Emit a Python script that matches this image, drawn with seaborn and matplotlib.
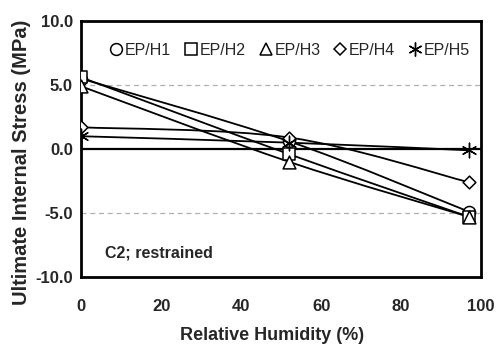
import numpy as np
import pandas as pd
import matplotlib
matplotlib.use("Agg")
import matplotlib.pyplot as plt
from matplotlib.path import Path
from matplotlib.patches import PathPatch
from matplotlib.lines import Line2D
from matplotlib.ticker import MultipleLocator, FormatStrFormatter
import seaborn as sns

# Relative humidity levels (%) and ultimate internal stress (MPa) per mix
humidity = [0, 52, 97]
series_names = ["EP/H1", "EP/H2", "EP/H3", "EP/H4", "EP/H5"]
ep_h1 = [5.5, 0.6, -4.9]
ep_h2 = [5.6, -0.4, -5.3]
ep_h3 = [4.9, -1.0, -5.3]
ep_h4 = [1.7, 0.9, -2.6]
ep_h5 = [1.0, 0.5, -0.1]
stress = [ep_h1, ep_h2, ep_h3, ep_h4, ep_h5]
markers = ["o", "s", "^", "D", (6, 2, 0)]
marker_sizes = [75, 75, 85, 42, 110]

df = pd.DataFrame({
    "humidity": np.tile(humidity, len(series_names)),
    "stress": np.concatenate(stress),
    "series": np.repeat(series_names, len(humidity)),
})

sns.set_style("white")
plt.rcParams["font.family"] = ["Liberation Sans", "DejaVu Sans"]

fig = plt.figure(figsize=(4.98, 3.45), dpi=100)
ax = fig.add_axes([0.163, 0.197, 0.803, 0.742])


def smooth_path(xs, ys):
    """Catmull-Rom style cubic Bezier through the points."""
    pts = np.column_stack([xs, ys]).astype(float)
    n = len(pts)
    verts = [pts[0]]
    codes = [Path.MOVETO]
    for i in range(n - 1):
        p0 = pts[i - 1] if i > 0 else pts[i]
        p1 = pts[i]
        p2 = pts[i + 1]
        p3 = pts[i + 2] if i + 2 < n else pts[i + 1]
        c1 = p1 + (p2 - p0) / 6.0
        c2 = p2 - (p3 - p1) / 6.0
        verts += [c1, c2, p2]
        codes += [Path.CURVE4] * 3
    return Path(verts, codes)


# reference lines
for yv in (5, -5):
    ax.axhline(yv, color="#b0b0b0", lw=0.9, ls=(0, (4, 3)), zorder=1)
ax.axhline(0, color="black", lw=1.6, zorder=2)

# smoothed connecting curves
for name in series_names:
    sub = df[df["series"] == name]
    patch = PathPatch(smooth_path(sub["humidity"].values, sub["stress"].values),
                      facecolor="none", edgecolor="black", lw=1.3, zorder=3)
    ax.add_patch(patch)

# markers
handles = []
for name, mk, ms in zip(series_names, markers, marker_sizes):
    sub = df[df["series"] == name]
    if isinstance(mk, tuple):
        sns.scatterplot(data=sub, x="humidity", y="stress", marker=mk, s=ms,
                        color="black", linewidth=1.0, ax=ax, zorder=4, legend=False)
        handles.append(Line2D([], [], ls="none", marker=mk, markersize=10,
                              color="black", markeredgewidth=1.0))
    else:
        sns.scatterplot(data=sub, x="humidity", y="stress", marker=mk, s=ms,
                        facecolor="white", edgecolor="black", linewidth=1.1,
                        ax=ax, zorder=4, legend=False)
        handles.append(Line2D([], [], ls="none", marker=mk,
                              markersize=8.5 if mk != "D" else 6.5,
                              markerfacecolor="white", markeredgecolor="black",
                              markeredgewidth=1.1))

ax.legend(handles, series_names, loc="center", bbox_to_anchor=(0.52, 0.885),
          ncol=5, frameon=False, handletextpad=0.05, columnspacing=0.75,
          handlelength=1.0, prop={"size": 11.5})

ax.text(6.0, -8.1, "C2; restrained", fontsize=11.5, fontweight="bold",
        va="center", ha="left")

ax.set_xlim(0, 100)
ax.set_ylim(-10, 10)
ax.xaxis.set_major_locator(MultipleLocator(20))
ax.xaxis.set_minor_locator(MultipleLocator(5))
ax.yaxis.set_major_locator(MultipleLocator(5))
ax.yaxis.set_minor_locator(MultipleLocator(1))
ax.yaxis.set_major_formatter(FormatStrFormatter("%.1f"))

ax.tick_params(axis="both", which="both", direction="in", top=False, right=False,
               color="black")
ax.tick_params(axis="both", which="major", length=6, width=1.2, labelsize=12)
ax.tick_params(axis="both", which="minor", length=4, width=1.0)
ax.tick_params(axis="x", which="major", pad=16)
ax.tick_params(axis="y", which="major", pad=6)
for lab in ax.get_xticklabels() + ax.get_yticklabels():
    lab.set_fontweight("bold")

for sp in ax.spines.values():
    sp.set_visible(True)
    sp.set_color("black")
    sp.set_linewidth(2.0)

ax.set_xlabel("Relative Humidity (%)", fontsize=13, fontweight="bold", va="center")
ax.set_ylabel("Ultimate Internal Stress (MPa)", fontsize=14.5, fontweight="bold",
              va="center")
ax.xaxis.set_label_coords(0.478, -0.227)
ax.yaxis.set_label_coords(-0.148, 0.45)

fig.savefig("out.png", dpi=100)
